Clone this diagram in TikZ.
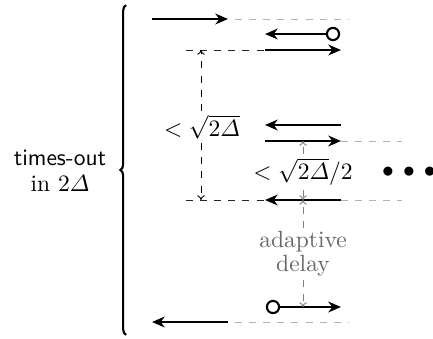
\documentclass[tikz,border=0pt]{standalone}
\usepackage{amsmath}
\usetikzlibrary{arrows.meta,decorations.pathreplacing}
\begin{document}
\begin{tikzpicture}[x=0.4255pt,y=-0.4255pt,
  sig/.style={line width=0.9pt,-{Stealth[length=5.4pt,width=4.6pt,inset=1.7pt]}},
  gdash/.style={gray!60,dashed},
  bdash/.style={black!85,dashed},
  meas/.style={dashed,-{To[length=2pt,width=3.2pt]}},
  gmeas/.style={meas,gray},
  openend/.style={circle,draw,line width=0.9pt,inner sep=0pt,minimum size=5.2pt,fill=white},
  lbl/.style={inner sep=1.5pt}]
\useasboundingbox (0,0) rectangle (433,339);
% brace and its label
\coordinate (bb) at (126,335);
\coordinate (bt) at (126,5);
\draw[line width=0.9pt,decorate,decoration={brace,amplitude=2.4pt}] (bb) -- (bt);
\node[align=center,lbl] (tl) at (60,171) {\textsf{times-out}\\[-1pt] in $2\varDelta$};
% row 1
\coordinate (r1a) at (152,19); \coordinate (r1b) at (228,19); \coordinate (r1c) at (235,19); \coordinate (r1d) at (348,19);
\draw[sig] (r1a) -- (r1b);
\draw[gdash] (r1c) -- (r1d);
% row 2
\node[openend] (c1) at (333,34) {};
\coordinate (r2b) at (265,34);
\draw[sig] (c1) -- (r2b);
% row 3
\coordinate (r3l) at (186,50); \coordinate (r3a) at (265,50); \coordinate (r3b) at (341,50);
\draw[sig] (r3a) -- (r3b);
\draw[bdash] (r3l) -- (r3a);
% row 4
\coordinate (r4a) at (341,125); \coordinate (r4b) at (265,125);
\draw[sig] (r4a) -- (r4b);
% row 5
\coordinate (r5a) at (265,141); \coordinate (r5b) at (341,141); \coordinate (r5c) at (402,141);
\draw[sig] (r5a) -- (r5b);
\draw[gdash] (r5b) -- (r5c);
% row 6
\coordinate (r6l) at (186,200); \coordinate (r6a) at (341,200); \coordinate (r6b) at (265,200); \coordinate (r6c) at (402,200);
\draw[sig] (r6a) -- (r6b);
\draw[bdash] (r6l) -- (r6b);
\draw[gdash] (r6a) -- (r6c);
% row 7
\node[openend] (c2) at (273,307) {};
\coordinate (r7b) at (341,307);
\draw[sig] (c2) -- (r7b);
% row 8
\coordinate (r8a) at (228,322); \coordinate (r8b) at (152,322); \coordinate (r8c) at (235,322); \coordinate (r8d) at (348,322);
\draw[sig] (r8a) -- (r8b);
\draw[gdash] (r8c) -- (r8d);
% measurements
\coordinate (m1t) at (201,50); \coordinate (m1b) at (201,200);
\node[lbl] (l1) at (202,127) {$<\sqrt{2\varDelta}$};
\draw[meas] (l1.north -| m1t) -- (m1t);
\draw[meas] (l1.south -| m1t) -- (m1b);
\coordinate (m2t) at (303,141); \coordinate (m2b) at (303,200); \coordinate (m3b) at (303,307);
\node[lbl] (l2) at (303,172) {$<\sqrt{2\varDelta}/2$};
\draw[gmeas] (l2.north -| m2t) -- (m2t);
\draw[gmeas] (l2.south -| m2t) -- (m2b);
\node[lbl,align=center,text=black!60] (l3) at (303,254) {adaptive\\[-2pt] delay};
\draw[gmeas] (l3.north -| m2t) -- (m2b);
\draw[gmeas] (l3.south -| m2t) -- (m3b);
% dots
\node[lbl] (dots) at (409,172) {$\bullet\,\bullet\,\bullet$};
\end{tikzpicture}
\end{document}
